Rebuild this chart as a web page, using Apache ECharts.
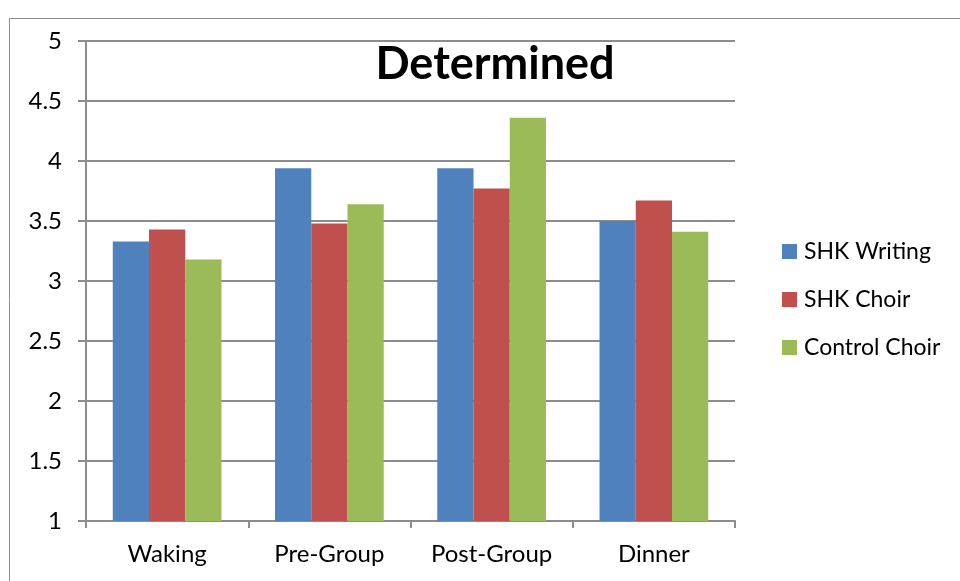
<!DOCTYPE html>
<html>
<head>
<meta charset="utf-8">
<script src="https://cdn.jsdelivr.net/npm/echarts@6/dist/echarts.min.js"></script>
<style>
  html, body { margin: 0; padding: 0; background: #fff; }
  #chart { width: 960px; height: 581px; }
</style>
</head>
<body>
<div id="chart"></div>
<script>
// Mean "Determined" ratings across the day, per group
const categories = ['Waking', 'Pre-Group', 'Post-Group', 'Dinner'];
const shkWriting = [3.33, 3.94, 3.94, 3.50];
const shkChoir = [3.43, 3.48, 3.77, 3.67];
const controlChoir = [3.18, 3.64, 4.36, 3.41];

const seriesNames = ['SHK Writing', 'SHK Choir', 'Control Choir'];
const seriesColors = ['#4F81BD', '#C0504D', '#9BBB59'];
const seriesValues = [shkWriting, shkChoir, controlChoir];

const fontFamily = 'Lato, "Open Sans", sans-serif';
const axisGray = '#8c8c8c';

const chart = echarts.init(document.getElementById('chart'), null, { renderer: 'canvas' });

chart.setOption({
  animation: false,
  backgroundColor: '#ffffff',
  textStyle: { fontFamily: fontFamily, color: '#000' },
  title: {
    text: 'Determined',
    left: 490,
    top: 37,
    textAlign: 'center',
    textStyle: { fontFamily: fontFamily, fontSize: 45, fontWeight: 'bold', color: '#000' }
  },
  legend: {
    orient: 'vertical',
    left: 777,
    top: 235,
    itemWidth: 15,
    itemHeight: 15,
    itemGap: 25,
    icon: 'rect',
    data: seriesNames,
    textStyle: { fontFamily: fontFamily, fontSize: 23, color: '#000', padding: [0, 0, 0, 2] }
  },
  grid: { left: 86, right: 225, top: 41, bottom: 60, containLabel: false },
  xAxis: {
    type: 'category',
    data: categories,
    boundaryGap: true,
    axisLine: { lineStyle: { color: axisGray, width: 2 } },
    axisTick: { show: true, length: 7, lineStyle: { color: axisGray, width: 2 } },
    axisLabel: { fontFamily: fontFamily, fontSize: 24, color: '#000', margin: 21 }
  },
  yAxis: {
    type: 'value',
    min: 1,
    max: 5,
    interval: 0.5,
    axisLine: { show: true, lineStyle: { color: axisGray, width: 2 } },
    axisTick: { show: true, length: 8, lineStyle: { color: axisGray, width: 2 } },
    axisLabel: { fontFamily: fontFamily, fontSize: 24, color: '#000', margin: 24 },
    splitLine: { show: true, lineStyle: { color: axisGray, width: 2 } }
  },
  graphic: [
    {
      type: 'rect',
      silent: true,
      shape: { x: 9.5, y: 18.5, width: 1000, height: 1000 },
      style: { fill: 'none', stroke: '#8c8c8c', lineWidth: 1 }
    }
  ],
  series: seriesNames.map((name, i) => ({
    name: name,
    type: 'bar',
    data: seriesValues[i],
    barGap: '0%',
    barCategoryGap: '33%',
    itemStyle: { color: seriesColors[i] }
  }))
});
</script>
</body>
</html>
